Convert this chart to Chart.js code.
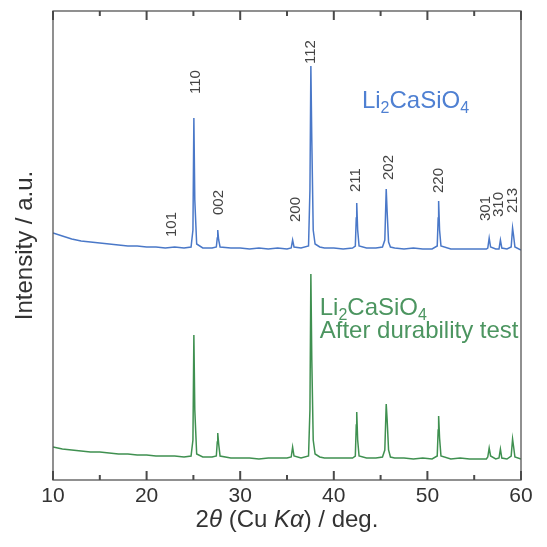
<!DOCTYPE html>
<html><head><meta charset="utf-8">
<script src="https://cdn.jsdelivr.net/npm/chart.js@4.4.0/dist/chart.umd.min.js"></script>
<style>html,body{margin:0;padding:0;background:#fff;}#wrap{width:547px;height:547px;}</style>
</head><body><div id="wrap"><canvas id="c" width="547" height="547"></canvas></div>
<script>
// 2θ positions (deg.)
const twoTheta = [
  10, 11, 12, 13, 14, 15, 16, 17, 18, 19, 20, 21, 22, 23, 24,
  24.75, 24.95, 25.05, 25.15, 25.35,
  26, 27,
  27.45, 27.55, 27.6, 27.7, 27.85,
  29, 30, 31, 32, 33, 34, 35,
  35.45, 35.6, 35.75,
  36.5,
  37.3, 37.45, 37.55, 37.65, 37.8, 38.0,
  38.5, 39, 40, 41, 42,
  42.3, 42.4, 42.45, 42.55, 42.7,
  43.5, 44.5, 45.2,
  45.45, 45.6, 45.7, 45.85, 46.05,
  46.5, 47.5, 48.5, 49.5, 50.5,
  51.05, 51.15, 51.2, 51.3, 51.45,
  52.5, 53.5, 54.5, 55.5, 56.3,
  56.45, 56.6, 56.75,
  57.3,
  57.65, 57.8, 57.95,
  58.5,
  58.95, 59.1, 59.2, 59.35,
  60
];
// Li2CaSiO4 as prepared (offset trace, a.u.)
const asPrepared = [
  247, 244, 241, 239, 238, 237, 236, 235, 234, 234, 233, 233, 232, 233, 232,
  233, 250, 362, 280, 236,
  232, 232,
  233, 242, 250, 240, 233,
  232, 232, 231, 232, 231, 232, 231,
  232, 240, 233,
  232,
  234, 290, 414, 340, 250, 236,
  233, 232, 232, 231, 232,
  234, 262, 277, 250, 234,
  232, 232, 233,
  240, 291, 268, 238, 233,
  232, 231, 232, 231, 231,
  234, 262, 279, 250, 234,
  231, 231, 231, 231, 231,
  232, 242, 233,
  231,
  231, 240, 232,
  231,
  233, 252, 245, 233,
  230
];
// Li2CaSiO4 after durability test (a.u.)
const afterTest = [
  33, 31, 30, 29, 28, 28, 27, 26, 26, 25, 25, 24, 24, 24, 23,
  24, 40, 145, 70, 26,
  23, 23,
  24, 38, 47, 36, 24,
  22, 22, 22, 21, 22, 22, 22,
  23, 33, 24,
  22,
  24, 70, 206, 120, 40, 26,
  23, 22, 22, 22, 22,
  24, 55, 68, 40, 24,
  22, 22, 23,
  30, 76, 60, 30, 23,
  22, 22, 21, 22, 21,
  24, 50, 64, 42, 24,
  21, 22, 21, 21, 21,
  23, 32, 24,
  21,
  22, 31, 22,
  21,
  24, 41, 34, 23,
  21
];
const xMajorTicks = [10, 20, 30, 40, 50, 60];
const xMinorTicks = [15, 25, 35, 45, 55];
// Miller indices of the reflections and where their labels sit
const millerIndices = ['101', '110', '002', '200', '112', '211', '202', '220', '301', '310', '213'];
const millerTwoTheta = [22.68, 25.25, 27.7, 35.93, 37.53, 42.34, 45.9, 51.24, 56.23, 57.65, 59.1];
const millerLabelBase = [243, 386, 265, 258, 416, 288, 300, 287, 259, 263, 267];

const FONT = "'Liberation Sans', Arial, Helvetica, sans-serif";
const BLUE = '#4a78c8';
const GREEN = '#3f9050';
const GREEN_TEXT = '#4c9560';
const BLUE_TEXT = '#4f80d2';
const AXIS = '#555555';

function toPoints(ys) { return twoTheta.map((x, i) => ({x: x, y: ys[i]})); }

function drawSegments(ctx, segs, x, y, align) {
  let total = 0;
  segs.forEach(s => { ctx.font = s.font; total += ctx.measureText(s.t).width; });
  let cx = align === 'center' ? x - total / 2 : x;
  ctx.textAlign = 'left';
  ctx.textBaseline = 'alphabetic';
  segs.forEach(s => {
    ctx.font = s.font;
    ctx.fillText(s.t, cx, y + (s.dy || 0));
    cx += ctx.measureText(s.t).width;
  });
}
function formula(size, sub) {
  const n = size + 'px ' + FONT, s = sub + 'px ' + FONT;
  return [{t: 'Li', font: n}, {t: '2', font: s, dy: 5}, {t: 'CaSiO', font: n}, {t: '4', font: s, dy: 5}];
}

const decor = {
  id: 'decor',
  afterDraw(chart) {
    const ctx = chart.ctx, a = chart.chartArea;
    const xs = chart.scales.x, ys = chart.scales.y;
    ctx.save();
    // frame
    ctx.strokeStyle = AXIS; ctx.lineWidth = 1.3;
    ctx.strokeRect(a.left, a.top, a.right - a.left, a.bottom - a.top);
    // inward ticks top and bottom (filled bars)
    ctx.fillStyle = '#4a4a4a';
    const tick = (v, len) => {
      const px = xs.getPixelForValue(v);
      ctx.fillRect(px - 1, a.bottom - len, 2, len);
      ctx.fillRect(px - 1, a.top, 2, len);
    };
    for (const v of xMajorTicks) tick(v, 9);
    for (const v of xMinorTicks) tick(v, 5);
    // miller index labels
    ctx.fillStyle = '#444';
    ctx.font = '15px ' + FONT;
    ctx.textAlign = 'left'; ctx.textBaseline = 'middle';
    millerIndices.forEach((lab, i) => {
      ctx.save();
      ctx.translate(xs.getPixelForValue(millerTwoTheta[i]), ys.getPixelForValue(millerLabelBase[i]));
      ctx.rotate(-Math.PI / 2);
      ctx.fillText(lab, 0, 0);
      ctx.restore();
    });
    // series labels
    ctx.fillStyle = BLUE_TEXT;
    drawSegments(ctx, formula(24, 16), xs.getPixelForValue(43.0), ys.getPixelForValue(372), 'left');
    ctx.fillStyle = GREEN_TEXT;
    drawSegments(ctx, formula(24, 16), xs.getPixelForValue(38.5), ys.getPixelForValue(165), 'left');
    drawSegments(ctx, [{t: 'After durability test', font: '24px ' + FONT}], xs.getPixelForValue(38.5), ys.getPixelForValue(142), 'left');
    // x axis title with italic symbols
    ctx.fillStyle = '#333';
    const n = '24px ' + FONT, it = 'italic 24px ' + FONT;
    drawSegments(ctx, [
      {t: '2', font: n}, {t: 'θ', font: it}, {t: ' (Cu ', font: n},
      {t: 'K', font: it}, {t: 'α', font: it}, {t: ') / deg.', font: n}
    ], (a.left + a.right) / 2, 527, 'center');
    ctx.restore();
  }
};

new Chart(document.getElementById('c'), {
  type: 'line',
  data: {
    datasets: [
      {label: 'Li2CaSiO4', data: toPoints(asPrepared), borderColor: BLUE, borderWidth: 1.5, pointRadius: 0, tension: 0, fill: false},
      {label: 'Li2CaSiO4 after durability test', data: toPoints(afterTest), borderColor: GREEN, borderWidth: 1.5, pointRadius: 0, tension: 0, fill: false}
    ]
  },
  options: {
    responsive: false,
    animation: false,
    devicePixelRatio: 1,
    layout: {padding: {left: 0, right: 26, top: 11, bottom: 0}},
    plugins: {legend: {display: false}, tooltip: {enabled: false}},
    scales: {
      x: {
        type: 'linear', min: 10, max: 60,
        afterBuildTicks: (s) => { s.ticks = xMajorTicks.map(v => ({value: v})); },
        afterFit: (s) => { s.height = 67; },
        grid: {display: false, drawTicks: false},
        border: {display: false},
        ticks: {font: {size: 21, family: FONT}, color: '#333', padding: 4, maxRotation: 0, autoSkip: false}
      },
      y: {
        type: 'linear', min: 0, max: 469,
        afterFit: (s) => { s.width = 53; },
        grid: {display: false, drawTicks: false},
        border: {display: false},
        ticks: {display: false},
        title: {display: true, text: 'Intensity / a.u.', color: '#333', font: {size: 24, family: FONT}, padding: {top: 11, bottom: 0}}
      }
    }
  },
  plugins: [decor]
});
</script></body></html>
